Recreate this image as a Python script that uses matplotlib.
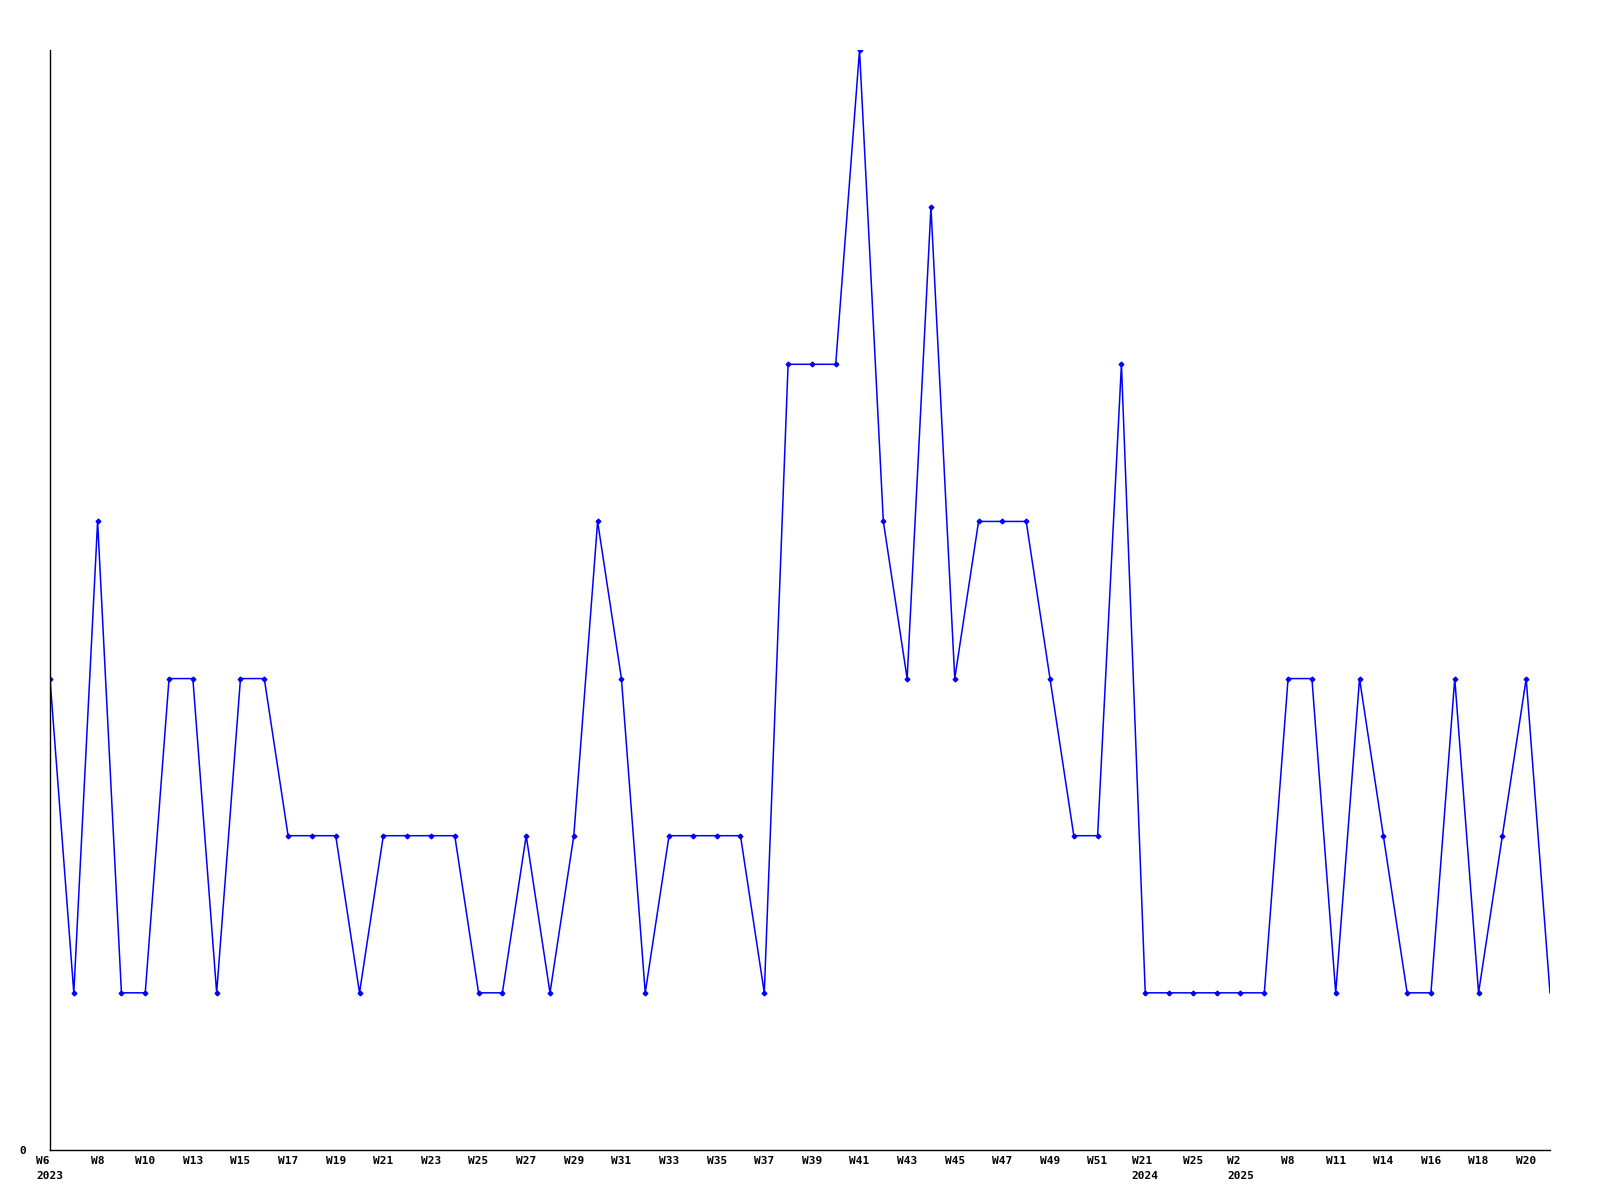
#Importing libraries
import matplotlib
matplotlib.use("Agg")
import matplotlib.pyplot as plt

#Weekly values (64 weeks)
values = [3, 1, 4, 1, 1, 3, 3, 1, 3, 3,
          2, 2, 2, 1, 2, 2, 2, 2, 1, 1,
          2, 1, 2, 4, 3, 1, 2, 2, 2, 2,
          1, 5, 5, 5, 7, 4, 3, 6, 3, 4,
          4, 4, 3, 2, 2, 5, 1, 1, 1, 1,
          1, 1, 3, 3, 1, 3, 2, 1, 1, 3,
          1, 2, 3, 1]

#Labels shown under every other week
week_labels = ["W6", "W8", "W10", "W13", "W15", "W17", "W19", "W21",
               "W23", "W25", "W27", "W29", "W31", "W33", "W35", "W37",
               "W39", "W41", "W43", "W45", "W47", "W49", "W51", "W21",
               "W25", "W2", "W8", "W11", "W14", "W16", "W18", "W20"]
year_marks = {0: "2023", 23: "2024", 25: "2025"}

x = list(range(len(values)))
tick_pos = x[0::2]
tick_text = []
for i, w in enumerate(week_labels):
    if i in year_marks:
        tick_text.append(w + "\n" + year_marks[i])
    else:
        tick_text.append(w)

fig = plt.figure(figsize=(16, 12), dpi=100)
ax = fig.add_axes([0.03125, 0.0417, 0.9375, 0.9166])

#line with small markers, last (partial) week has no marker
ax.plot(x, values, color="#0000ff", linewidth=1.1, marker="D", markersize=2.4,
        markevery=list(range(len(values) - 1)), clip_on=True)

ax.set_xlim(0, len(values) - 1)
ax.set_ylim(0, 7)

ax.spines["top"].set_visible(False)
ax.spines["right"].set_visible(False)
ax.spines["left"].set_linewidth(1)
ax.spines["bottom"].set_linewidth(1)

ax.set_xticks(tick_pos)
ax.set_xticklabels(tick_text, fontfamily="DejaVu Sans Mono", fontweight="bold",
                   fontsize=8, linespacing=1.7)
for lab in ax.get_xticklabels():
    lab.set_multialignment("left")
ax.set_yticks([0])
ax.set_yticklabels(["0"], fontfamily="DejaVu Sans Mono", fontweight="bold",
                   fontsize=8)
ax.tick_params(axis="both", length=0)
ax.tick_params(axis="x", pad=4)
ax.tick_params(axis="y", pad=17)

fig.savefig("out.png", dpi=100)
